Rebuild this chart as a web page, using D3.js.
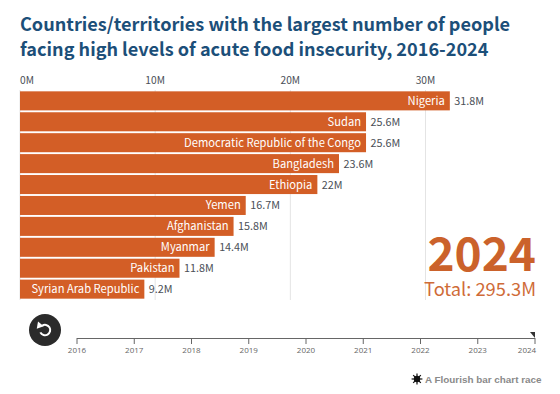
<!DOCTYPE html>
<html><head><meta charset="utf-8">
<script src="https://cdn.jsdelivr.net/npm/d3@7"></script>
<style>
html,body{margin:0;padding:0;background:#fff}
svg{display:block}
text{font-family:"Noto Sans CJK SC","Noto Sans",sans-serif}
</style></head><body><svg id="c" width="560" height="394"></svg>
<script>
const titleLines = ["Countries/territories with the largest number of people","facing high levels of acute food insecurity, 2016-2024"];
const countries = ["Nigeria","Sudan","Democratic Republic of the Congo","Bangladesh","Ethiopia","Yemen","Afghanistan","Myanmar","Pakistan","Syrian Arab Republic"];
const values = [31.8,25.6,25.6,23.6,22,16.7,15.8,14.4,11.8,9.2];
const xTicks = [0,10,20,30];
const years = [2016,2017,2018,2019,2020,2021,2022,2023,2024];
const currentYear = "2024";
const totalLabel = "Total: 295.3M";
const credit = "A Flourish bar chart race";
const barColor = "#d35e26", titleColor = "#1c4f79", labelColor = "#4a4f57";

const svg = d3.select("#c");
svg.selectAll(".t").data(titleLines).join("text").attr("class","t")
  .attr("x",20).attr("y",(d,i)=>31+i*24.5).attr("font-size",18.1).attr("font-weight",700).attr("fill",titleColor).text(d=>d);

const x = d3.scaleLinear().domain([0,30]).range([20,425.5]);
const y = d3.scaleBand().domain(countries).range([90.5,299.5]).paddingInner(0.09).paddingOuter(0.04);

svg.selectAll(".g").data(xTicks).join("line").attr("class","g")
  .attr("x1",d=>x(d)).attr("x2",d=>x(d)).attr("y1",90).attr("y2",300).attr("stroke","#e4e4e4").attr("stroke-width",1);
svg.selectAll(".xl").data(xTicks).join("text").attr("class","xl")
  .attr("x",(d,i)=>x(d)+(i?0:0)).attr("y",84).attr("text-anchor",(d,i)=>i?"middle":"start")
  .attr("font-size",10.2).attr("fill",labelColor).text(d=>d+"M");

const rows = countries.map((c,i)=>({c,v:values[i]}));
svg.selectAll(".b").data(rows).join("rect").attr("class","b")
  .attr("x",x(0)).attr("y",d=>y(d.c)).attr("width",d=>x(d.v)-x(0)).attr("height",y.bandwidth())
  .attr("fill",barColor);
svg.selectAll(".n").data(rows).join("text").attr("class","n")
  .attr("x",d=>x(d.v)-5).attr("y",d=>y(d.c)+y.bandwidth()/2+4)
  .attr("text-anchor","end").attr("font-size",11.2).attr("fill","#fff").text(d=>d.c);
svg.selectAll(".v").data(rows).join("text").attr("class","v")
  .attr("x",d=>x(d.v)+4.5).attr("y",d=>y(d.c)+y.bandwidth()/2+4)
  .attr("font-size",10.8).attr("fill",labelColor).text(d=>d.v+"M");

svg.append("text").attr("x",536).attr("y",271).attr("text-anchor","end").attr("font-size",46).attr("font-weight",700).attr("fill","#cb622b").text(currentYear);
svg.append("text").attr("x",536).attr("y",296).attr("text-anchor","end").attr("font-size",18.3).attr("fill","#cf6b38").text(totalLabel);

// replay button
svg.append("circle").attr("cx",45).attr("cy",330).attr("r",16).attr("fill","#2b2b2b");
const arc = d3.arc().innerRadius(4.2).outerRadius(6.2).startAngle(-0.6).endAngle(Math.PI*1.35);
svg.append("path").attr("d",arc()).attr("transform","translate(45,330)").attr("fill","#fff");
svg.append("path").attr("d",d3.symbol(d3.symbolTriangle,24)()).attr("transform","translate(39.5,325.5) rotate(-20)").attr("fill","#fff");

// timeline
const t = d3.scaleLinear().domain([2016,2024]).range([77,535]);
svg.append("line").attr("x1",t(2016)).attr("x2",t(2024)).attr("y1",338.5).attr("y2",338.5).attr("stroke","#666").attr("stroke-width",1.2);
svg.selectAll(".yt").data(years).join("line").attr("class","yt")
  .attr("x1",d=>t(d)).attr("x2",d=>t(d)).attr("y1",338).attr("y2",344).attr("stroke","#666");
svg.selectAll(".yl").data(years).join("text").attr("class","yl")
  .attr("x",d=>d===2024?t(d)-8:t(d)).attr("y",353).attr("text-anchor","middle")
  .attr("font-size",8).style("font-family","'Open Sans',sans-serif").attr("fill","#666").text(d=>d);
const hx = t(2024);
svg.append("path").attr("d",d3.line()([[hx-5,332],[hx,332],[hx,338]])+"Z").attr("fill","#333");

// credit
const star = svg.append("g").attr("transform","translate(417,379)");
star.append("circle").attr("r",3.2).attr("fill","#111");
star.selectAll("line").data(d3.range(8)).join("line")
  .attr("x2",d=>5.4*Math.cos(d*Math.PI/4)).attr("y2",d=>5.4*Math.sin(d*Math.PI/4)).attr("stroke","#111").attr("stroke-width",1.2);
svg.append("text").attr("x",425).attr("y",383).attr("font-size",9.9).attr("font-weight",700)
  .style("font-family","'Liberation Sans',sans-serif").attr("fill","#8a8a8a").text(credit);
</script></body></html>
